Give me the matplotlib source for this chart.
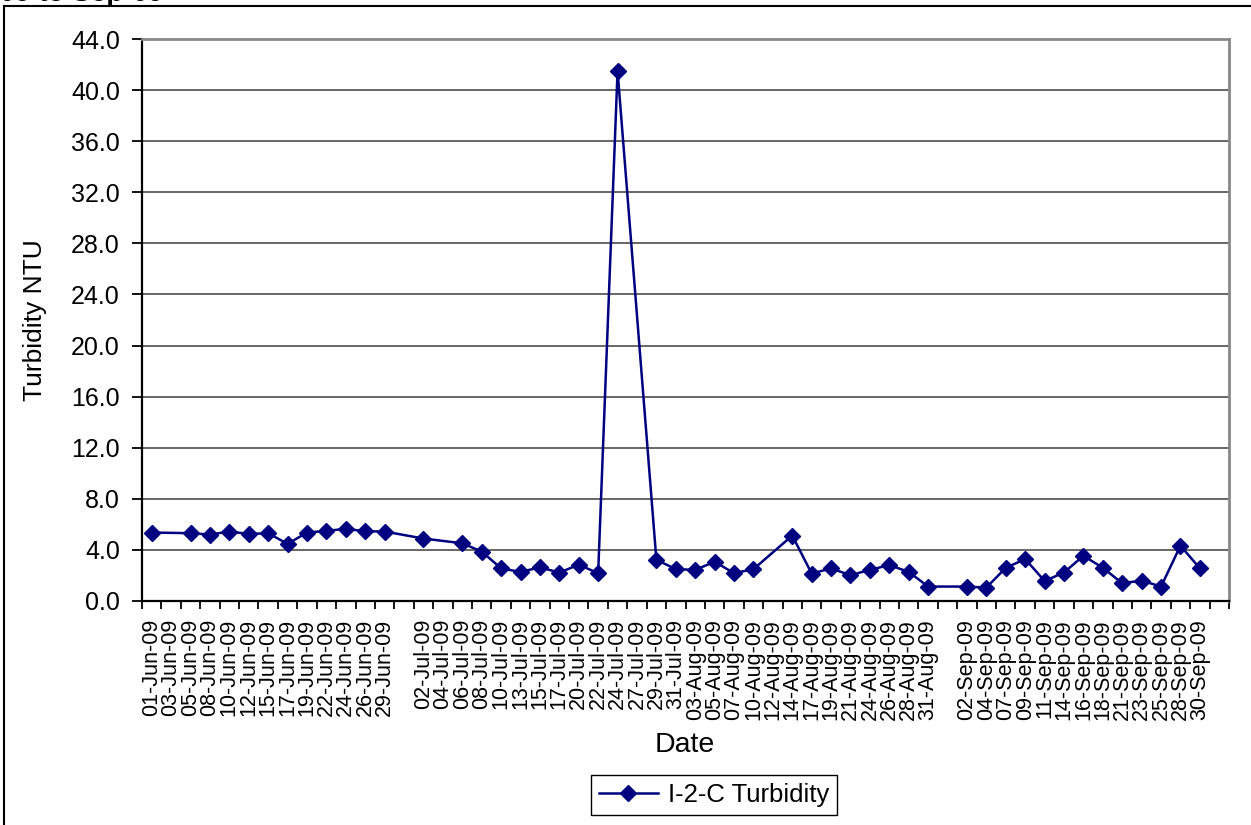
import numpy as np
import matplotlib
matplotlib.use("Agg")
import matplotlib.pyplot as plt
from matplotlib.lines import Line2D

plt.rcParams['font.family'] = ['Liberation Sans', 'DejaVu Sans']

# Category labels (blank slots are empty categories on the axis)
dates = ['01-Jun-09', '03-Jun-09', '05-Jun-09', '08-Jun-09', '10-Jun-09', '12-Jun-09',
         '15-Jun-09', '17-Jun-09', '19-Jun-09', '22-Jun-09', '24-Jun-09', '26-Jun-09',
         '29-Jun-09', '',
         '02-Jul-09', '04-Jul-09', '06-Jul-09', '08-Jul-09', '10-Jul-09', '13-Jul-09',
         '15-Jul-09', '17-Jul-09', '20-Jul-09', '22-Jul-09', '24-Jul-09', '27-Jul-09',
         '29-Jul-09', '31-Jul-09',
         '03-Aug-09', '05-Aug-09', '07-Aug-09', '10-Aug-09', '12-Aug-09', '14-Aug-09',
         '17-Aug-09', '19-Aug-09', '21-Aug-09', '24-Aug-09', '26-Aug-09', '28-Aug-09',
         '31-Aug-09', '',
         '02-Sep-09', '04-Sep-09', '07-Sep-09', '09-Sep-09', '11-Sep-09', '14-Sep-09',
         '16-Sep-09', '18-Sep-09', '21-Sep-09', '23-Sep-09', '25-Sep-09', '28-Sep-09',
         '30-Sep-09', '']

# Turbidity values (NaN = no reading for that date)
nan = np.nan
turbidity = [5.36, nan, 5.31, 5.20, 5.44, 5.25,
             5.31, 4.47, 5.36, 5.49, 5.65, 5.46,
             5.44, nan,
             4.89, nan, 4.52, 3.87, 2.56, 2.27,
             2.64, 2.22, 2.85, 2.17, 41.5, nan,
             3.23, 2.49,
             2.44, 3.07, 2.18, 2.49, nan, 5.12,
             2.15, 2.55, 2.02, 2.44, 2.81, 2.28,
             1.13, nan,
             1.13, 1.05, 2.60, 3.28, 1.57, 2.23,
             3.54, 2.60, 1.39, 1.60, 1.13, 4.33,
             2.55, nan]

yticks = np.arange(0, 44.1, 4.0)

W, H = 1251, 825
fig = plt.figure(figsize=(W / 100, H / 100), dpi=100)
fig.patch.set_facecolor('white')

ax = fig.add_axes([142 / W, 1 - 601 / H, (1229 - 142) / W, (601 - 39) / H])

n = len(dates)
vals = np.array(turbidity, dtype=float)
pos = np.arange(n) + 0.5
ok = ~np.isnan(vals)
ax.plot(pos[ok], vals[ok], color='#000080', lw=1.8, marker='D', markersize=8.5,
        markerfacecolor='#000080', markeredgecolor='#000080')

ax.set_xlim(0, n)
ax.set_ylim(0, 44)

# gridlines
ax.set_yticks(yticks)
ax.set_yticklabels(['%.1f' % v for v in yticks], fontsize=18)
for v in yticks[1:]:
    ax.axhline(v, color='#5a5a5a', lw=1.3, zorder=0)

# category ticks between categories, labels centred on categories
ax.set_xticks(np.arange(n + 1))
ax.set_xticklabels([])
ax.set_xticks(pos, minor=True)
ax.set_xticklabels(dates, minor=True, rotation=90, fontsize=15.5)
ax.tick_params(axis='x', which='major', length=6, width=1.3, direction='out', color='black')
ax.tick_params(axis='x', which='minor', length=0, pad=13)
ax.tick_params(axis='y', length=7, width=1.3, direction='out', pad=9)

for s in ['top', 'right']:
    ax.spines[s].set_color('#888888')
    ax.spines[s].set_linewidth(2.0)
for s in ['left', 'bottom']:
    ax.spines[s].set_color('black')
    ax.spines[s].set_linewidth(1.6)

ax.set_ylabel('Turbidity NTU', fontsize=19)
ax.yaxis.set_label_coords(-0.0874, 0.5)

fig.text(685 / W, 1 - 745 / H, 'Date', ha='center', va='center', fontsize=20.5)

# legend
handle = Line2D([], [], color='#000080', lw=1.8, marker='D', markersize=8.5)
fig.legend([handle], ['I-2-C Turbidity'], loc='center',
           bbox_to_anchor=(714 / W, 1 - 795 / H), fontsize=18.5, fancybox=False,
           edgecolor='black', framealpha=1, handlelength=2.3, borderpad=0.3,
           handletextpad=0.4).get_frame().set_linewidth(1.0)

# outer chart border (partly outside the image)
fig.add_artist(Line2D([4 / W, 1.0], [1 - 6 / H, 1 - 6 / H], color='black', lw=1.5))
fig.add_artist(Line2D([4 / W, 4 / W], [0, 1 - 6 / H], color='black', lw=1.5))

# title, mostly cut off at the top
fig.text(163 / W, 1 - 1 / H, 'Jun-09 to Sep-09', ha='right', va='baseline',
         fontsize=20, fontweight='bold')

fig.savefig('out.png', dpi=100)
